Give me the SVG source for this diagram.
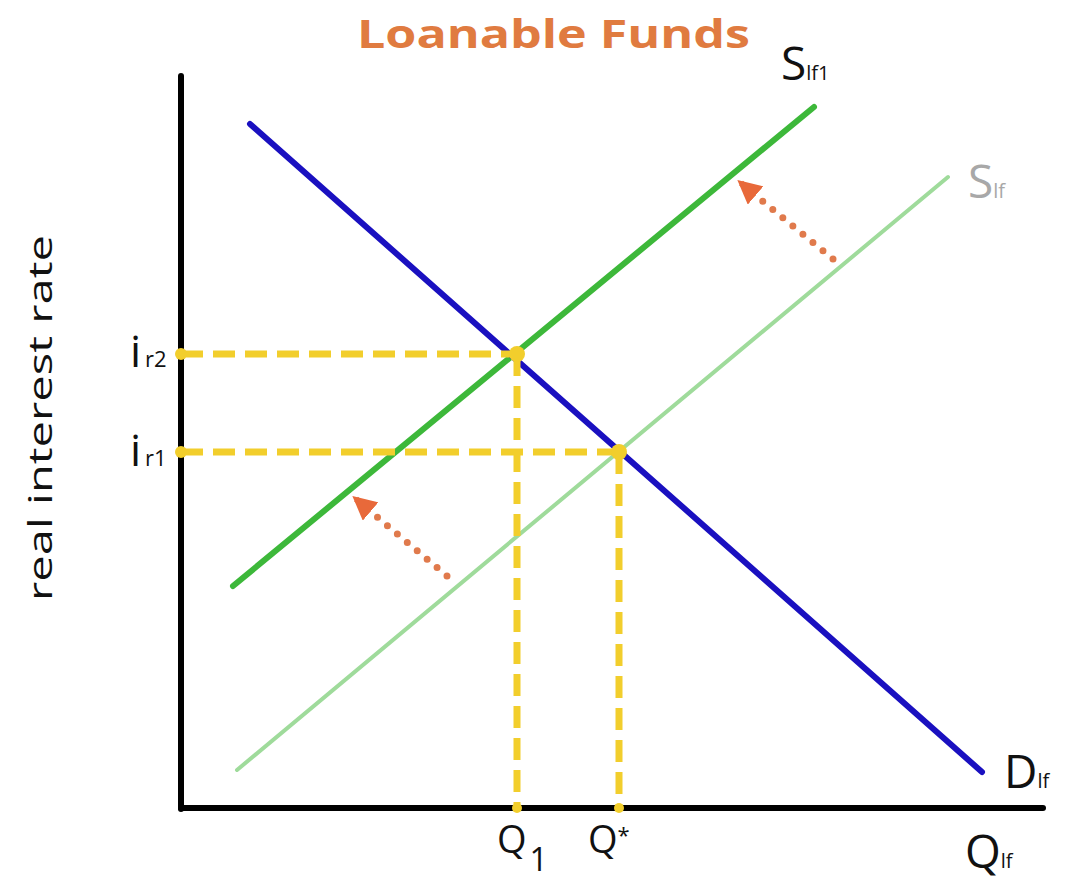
<svg xmlns="http://www.w3.org/2000/svg" width="1084" height="882" viewBox="0 0 1084 882">
<defs>
<style>
.lbl{font-family:"Open Sans","DejaVu Sans",sans-serif;fill:#111}
.dash{stroke:#F2CE2C;stroke-width:7;stroke-dasharray:22 10;fill:none}
.dot{fill:#F2CE2C}
.shift{stroke:#E07A4C;stroke-width:7;stroke-linecap:round;stroke-dasharray:0 13;fill:none}
</style>
<marker id="ah" viewBox="0 0 10 10" refX="8" refY="5" markerWidth="4" markerHeight="4" orient="auto" markerUnits="strokeWidth">
<path d="M0,0 L10,5 L0,10 z" fill="#E8693A"/>
</marker>
</defs>
<rect width="1084" height="882" fill="#fff"/>
<g id="title"><text x="357" y="48" class="lbl" style="fill:#E07B40;font-weight:bold;font-size:40px" textLength="393" lengthAdjust="spacingAndGlyphs">Loanable Funds</text></g>
<g id="axes" stroke="#000" stroke-width="6" stroke-linecap="round" fill="none">
<line x1="181" y1="76" x2="181" y2="809"/>
<line x1="181" y1="808" x2="1043" y2="808"/>
</g>
<g id="ylabel"><text class="lbl" transform="translate(52,418) rotate(-90)" text-anchor="middle" style="font-size:33px" textLength="366" lengthAdjust="spacingAndGlyphs">real interest rate</text></g>
<g id="curves" fill="none" stroke-linecap="round">
<line id="S_lf" x1="237" y1="770" x2="948" y2="177" stroke="#9FDB9B" stroke-width="4"/>
<line id="S_lf1" x1="233" y1="586" x2="814" y2="107" stroke="#3DB83A" stroke-width="6"/>
<line id="D_lf" x1="250" y1="124" x2="982" y2="772" stroke="#1A10C0" stroke-width="6"/>
</g>
<g id="connectors">
<line class="dash" x1="181" y1="354" x2="517" y2="354"/>
<line class="dash" x1="181" y1="452" x2="619" y2="452"/>
<line class="dash" x1="517" y1="354" x2="517" y2="808"/>
<line class="dash" x1="619" y1="452" x2="619" y2="808"/>
<circle class="dot" cx="181" cy="354" r="6"/>
<circle class="dot" cx="181" cy="452" r="6"/>
<circle class="dot" cx="517" cy="354" r="8"/>
<circle class="dot" cx="619" cy="452" r="8"/>
<circle class="dot" cx="517" cy="808" r="5"/>
<circle class="dot" cx="619" cy="808" r="5"/>
<path class="shift" d="M447,576 L363,505"/>
<path d="M370,511 L356,499" stroke="#E8693A" stroke-width="6" marker-end="url(#ah)" fill="none"/>
<path class="shift" d="M833,259 L748,189"/>
<path d="M755,195 L741,183" stroke="#E8693A" stroke-width="6" marker-end="url(#ah)" fill="none"/>
</g>
<g id="labels" class="lbl">
<text x="781" y="80" class="lbl" style="font-size:46px">S<tspan style="font-size:20px">lf1</tspan></text>
<text x="968" y="198" class="lbl" style="font-size:46px;fill:#A8A8A8">S<tspan style="font-size:20px">lf</tspan></text>
<text x="1004" y="788" class="lbl" style="font-size:46px">D<tspan style="font-size:20px">lf</tspan></text>
<text x="965" y="868" class="lbl" style="font-size:46px">Q<tspan style="font-size:20px">lf</tspan></text>
<text x="130" y="367" class="lbl" style="font-size:44px">i<tspan style="font-size:22px" dx="4">r2</tspan></text>
<text x="130" y="466" class="lbl" style="font-size:44px">i<tspan style="font-size:22px" dx="4">r1</tspan></text>
<text x="497" y="853" class="lbl" style="font-size:38px">Q<tspan dy="18" style="font-size:32px" dx="3">1</tspan></text>
<text x="588" y="853" class="lbl" style="font-size:38px">Q<tspan dy="-10" style="font-size:22px">*</tspan></text>
</g>
</svg>
